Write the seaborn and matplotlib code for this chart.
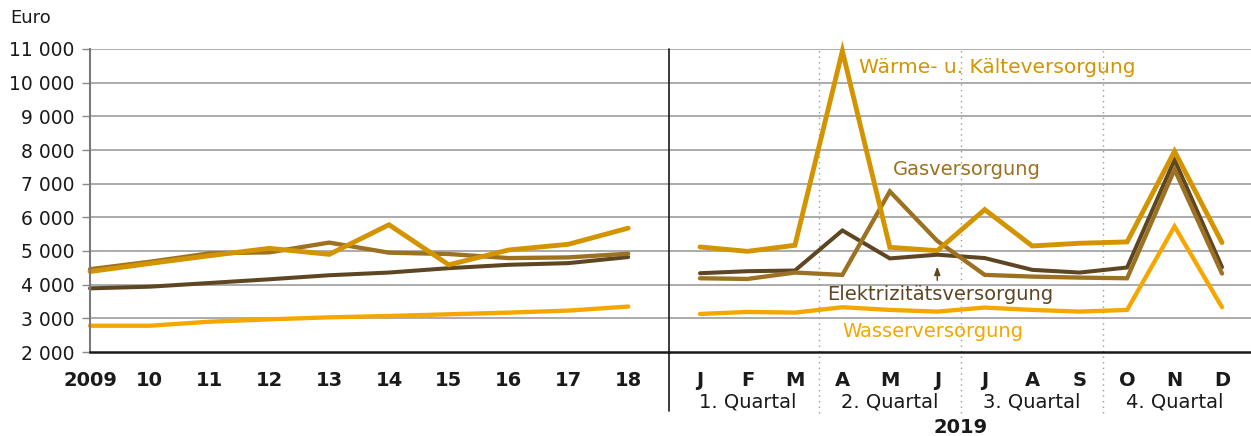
import matplotlib
matplotlib.use("Agg")
import matplotlib.pyplot as plt
import seaborn as sns
import pandas as pd

# ---------------- data ----------------
years = ["2009", "10", "11", "12", "13", "14", "15", "16", "17", "18"]
months = ["J", "F", "M", "A", "M", "J", "J", "A", "S", "O", "N", "D"]
quarters = ["1. Quartal", "2. Quartal", "3. Quartal", "4. Quartal"]
series = ["Wasserversorgung", "Elektrizitätsversorgung", "Gasversorgung", "Wärme- u. Kälteversorgung"]

waerme_years = [4390, 4630, 4860, 5080, 4900, 5780, 4590, 5030, 5200, 5680]
gas_years = [4460, 4680, 4930, 4960, 5250, 4950, 4910, 4790, 4810, 4920]
elek_years = [3890, 3940, 4050, 4160, 4280, 4360, 4490, 4590, 4640, 4820]
wasser_years = [2780, 2780, 2900, 2970, 3030, 3070, 3120, 3170, 3230, 3350]

waerme_months = [5120, 4990, 5170, 10940, 5110, 5010, 6230, 5150, 5230, 5270, 7960, 5250]
gas_months = [4190, 4170, 4360, 4290, 6770, 5300, 4290, 4240, 4210, 4190, 7420, 4330]
elek_months = [4340, 4400, 4420, 5610, 4780, 4890, 4790, 4440, 4360, 4510, 7710, 4520]
wasser_months = [3130, 3190, 3170, 3330, 3250, 3200, 3320, 3250, 3200, 3250, 5730, 3330]

colors = {
    "Wärme- u. Kälteversorgung": "#D49400",
    "Gasversorgung": "#9C7222",
    "Elektrizitätsversorgung": "#5F4623",
    "Wasserversorgung": "#F5A700",
}
widths = {
    "Wärme- u. Kälteversorgung": 3.5,
    "Gasversorgung": 3.1,
    "Elektrizitätsversorgung": 2.9,
    "Wasserversorgung": 3.1,
}

def long_df(labels, vals):
    rows = []
    for name, v in vals.items():
        for i, (lab, y) in enumerate(zip(labels, v)):
            rows.append({"pos": i, "label": lab, "series": name, "value": y})
    return pd.DataFrame(rows)

df_y = long_df(years, {
    "Wasserversorgung": wasser_years,
    "Elektrizitätsversorgung": elek_years,
    "Gasversorgung": gas_years,
    "Wärme- u. Kälteversorgung": waerme_years,
})
df_m = long_df(months, {
    "Wasserversorgung": wasser_months,
    "Elektrizitätsversorgung": elek_months,
    "Gasversorgung": gas_months,
    "Wärme- u. Kälteversorgung": waerme_months,
})

# ---------------- figure ----------------
sns.set_theme(style="white")
plt.rcParams["font.family"] = ["DejaVu Sans"]

W, H = 1251, 436
fig = plt.figure(figsize=(W / 100, H / 100), dpi=100)

def px_ax(x0, x1, ytop, ybot):
    return [x0 / W, 1 - ybot / H, (x1 - x0) / W, (ybot - ytop) / H]

ax1 = fig.add_axes(px_ax(90, 669, 49, 352))
ax2 = fig.add_axes(px_ax(669, 1251, 49, 352), sharey=ax1)

for ax, df in ((ax1, df_y), (ax2, df_m)):
    for s in series:
        sub = df[df["series"] == s]
        sns.lineplot(data=sub, x="pos", y="value", ax=ax, color=colors[s],
                     linewidth=widths[s], legend=False, clip_on=False,
                     solid_joinstyle="miter")
    ax.set_xlabel("")
    ax.set_ylabel("")
    ax.set_facecolor("white")
    ax.grid(False)
    for yv in range(3000, 11001, 1000):
        ax.axhline(yv, color="#ABABAB", linewidth=1.4, zorder=0)
    ax.spines["top"].set_visible(False)
    ax.spines["right"].set_visible(False)
    ax.spines["bottom"].set_color("#1a1a1a")
    ax.spines["bottom"].set_linewidth(1.8)
    ax.tick_params(axis="x", direction="out", length=7, width=1, color="#8a8a8a",
                   pad=7, labelsize=14, labelcolor="#1a1a1a")

ax1.set_ylim(2000, 11000)
ax1.set_yticks(range(2000, 11001, 1000))
ax1.set_yticklabels([f"{v:,}".replace(",", " ") for v in range(2000, 11001, 1000)])
ax1.tick_params(axis="y", direction="out", length=6, width=1, color="#8a8a8a",
                pad=5, labelsize=13.5, labelcolor="#1a1a1a", left=True)
ax1.spines["left"].set_color("#7a7a7a")
ax1.spines["left"].set_linewidth(1.5)

ax1.set_xlim(0, (669 - 90) / 59.8)
ax1.set_xticks(range(len(years)))
ax1.set_xticklabels(years, fontweight="bold")

ax2.set_xlim(-(700 - 669) / 47.45, 11 + (1251 - 1222) / 47.45)
ax2.set_xticks(range(len(months)))
ax2.set_xticklabels(months, fontweight="bold")
ax2.spines["left"].set_visible(False)
ax2.tick_params(axis="y", left=False, labelleft=False)

# separator and quarter dividers
ax2.axvline(ax2.get_xlim()[0], ymin=-0.195, ymax=1, color="#1a1a1a",
            linewidth=1.2, clip_on=False)
for xv in (2.5, 5.5, 8.5):
    ax2.axvline(xv, ymin=-0.2, ymax=1, color="#9a9a9a", linewidth=1.0,
                linestyle=(0, (1, 3)), clip_on=False, zorder=0)

tr = ax2.get_xaxis_transform()
for i, q in enumerate(quarters):
    ax2.text(3 * i + 1, -0.165, q, transform=tr, ha="center", va="center",
             fontsize=14, color="#1a1a1a")
ax2.text(5.5, -0.248, "2019", transform=tr, ha="center", va="center",
         fontsize=14, fontweight="bold", color="#1a1a1a")

# series labels
ax2.text(3.35, 10450, "Wärme- u. Kälteversorgung", color=colors["Wärme- u. Kälteversorgung"],
         fontsize=14.5, va="center", ha="left")
ax2.text(4.07, 7420, "Gasversorgung", color=colors["Gasversorgung"],
         fontsize=14, va="center", ha="left")
ax2.text(2.68, 3700, "Elektrizitätsversorgung", color=colors["Elektrizitätsversorgung"],
         fontsize=14, va="center", ha="left")
ax2.text(3.01, 2600, "Wasserversorgung", color=colors["Wasserversorgung"],
         fontsize=14, va="center", ha="left")
ax2.annotate("", xy=(5, 4620), xytext=(5, 4050),
             arrowprops=dict(arrowstyle="-|>,head_length=0.4,head_width=0.15",
                             color=colors["Elektrizitätsversorgung"], lw=1.1))

fig.text(10 / W, 1 - 18 / H, "Euro", fontsize=13, va="center", ha="left", color="#1a1a1a")

fig.savefig("out.png", dpi=100)
